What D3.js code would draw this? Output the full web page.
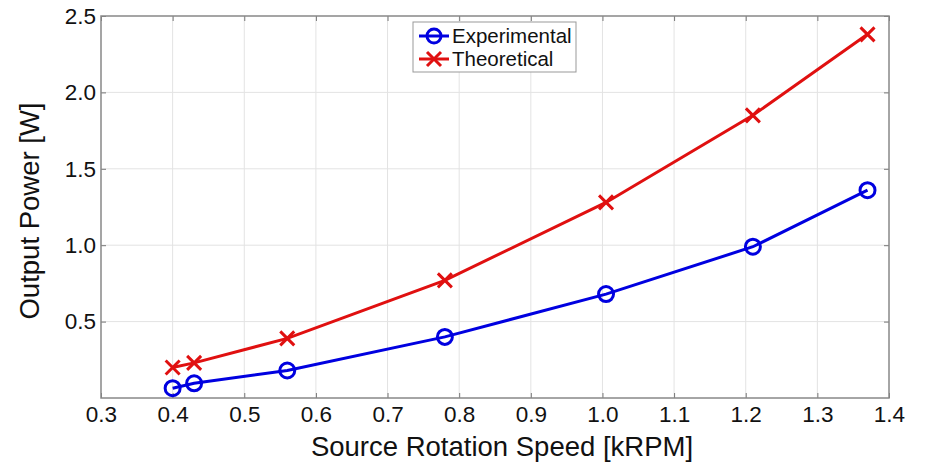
<!DOCTYPE html>
<html>
<head>
<meta charset="utf-8">
<script src="https://cdn.jsdelivr.net/npm/d3@7"></script>
<style>
body { margin: 0; background: #fff; }
text { font-family: "Liberation Sans", Arial, sans-serif; fill: #111; }
</style>
</head>
<body>
<svg id="chart" width="925" height="464"></svg>
<script>
// data
var speed = [0.40, 0.43, 0.56, 0.78, 1.005, 1.21, 1.37];
var experimental = [0.064, 0.096, 0.18, 0.40, 0.68, 0.99, 1.36];
var theoretical = [0.20, 0.23, 0.39, 0.77, 1.28, 1.85, 2.38];
var xTicks = [0.3, 0.4, 0.5, 0.6, 0.7, 0.8, 0.9, 1.0, 1.1, 1.2, 1.3, 1.4];
var yTicks = [0.5, 1.0, 1.5, 2.0, 2.5];

var m = { left: 101, top: 16, right: 889, bottom: 398 };
var svg = d3.select("#chart");

var x = d3.scaleLinear().domain([0.3, 1.4]).range([m.left, m.right]);
var y = d3.scaleLinear().domain([0, 2.5]).range([m.bottom, m.top]);

// grid
var grid = svg.append("g").attr("stroke", "#e3e3e3").attr("stroke-width", 1);
grid.selectAll("line.gx").data(xTicks.slice(1, -1)).enter().append("line")
	.attr("x1", function(d) { return x(d); }).attr("x2", function(d) { return x(d); })
	.attr("y1", m.top).attr("y2", m.bottom);
grid.selectAll("line.gy").data(yTicks.slice(0, -1)).enter().append("line")
	.attr("x1", m.left).attr("x2", m.right)
	.attr("y1", function(d) { return y(d); }).attr("y2", function(d) { return y(d); });

// axes (ticks inside, on all four sides)
var tickStyle = function(g) {
	g.select(".domain").remove();
	g.selectAll(".tick line").attr("stroke", "#777");
	g.selectAll(".tick text").style("font-size", "22.5px").attr("fill", "#111");
};
svg.append("g").attr("transform", "translate(0," + m.bottom + ")")
	.call(d3.axisBottom(x).tickValues(xTicks).tickSizeInner(-5).tickPadding(8).tickFormat(d3.format(".1f")))
	.call(tickStyle);
svg.append("g").attr("transform", "translate(0," + m.top + ")")
	.call(d3.axisTop(x).tickValues(xTicks).tickSizeInner(-5).tickFormat(""))
	.call(tickStyle);
svg.append("g").attr("transform", "translate(" + m.left + ",0)")
	.call(d3.axisLeft(y).tickValues(yTicks).tickSizeInner(-5).tickPadding(5).tickFormat(d3.format(".1f")))
	.call(tickStyle);
svg.append("g").attr("transform", "translate(" + m.right + ",0)")
	.call(d3.axisRight(y).tickValues(yTicks).tickSizeInner(-5).tickFormat(""))
	.call(tickStyle);

svg.append("rect")
	.attr("x", m.left).attr("y", m.top)
	.attr("width", m.right - m.left).attr("height", m.bottom - m.top)
	.attr("fill", "none").attr("stroke", "#888").attr("stroke-width", 1.5);

// axis titles
svg.append("text")
	.attr("x", 502).attr("y", 456)
	.attr("text-anchor", "middle").style("font-size", "27.5px")
	.text("Source Rotation Speed [kRPM]");
svg.append("text")
	.attr("transform", "translate(39,211) rotate(-90)")
	.attr("text-anchor", "middle").style("font-size", "27.5px")
	.text("Output Power [W]");

// series
var line = d3.line().x(function(d) { return x(d[0]); }).y(function(d) { return y(d[1]); });
var expPts = d3.zip(speed, experimental);
var theoPts = d3.zip(speed, theoretical);

svg.append("path").datum(expPts).attr("d", line)
	.attr("fill", "none").attr("stroke", "#0000e0").attr("stroke-width", 3);
svg.append("path").datum(theoPts).attr("d", line)
	.attr("fill", "none").attr("stroke", "#e01010").attr("stroke-width", 3);

svg.selectAll("circle.exp").data(expPts).enter().append("circle")
	.attr("cx", function(d) { return x(d[0]); })
	.attr("cy", function(d) { return y(d[1]); })
	.attr("r", 7.5).attr("fill", "none").attr("stroke", "#0000e0").attr("stroke-width", 3);

var cross = function(sel, s) {
	return sel.append("path")
		.attr("d", "M" + (-s) + "," + (-s) + "L" + s + "," + s + "M" + (-s) + "," + s + "L" + s + "," + (-s))
		.attr("fill", "none").attr("stroke", "#e01010").attr("stroke-width", 3);
};
svg.selectAll("g.theo").data(theoPts).enter().append("g")
	.attr("transform", function(d) { return "translate(" + x(d[0]) + "," + y(d[1]) + ")"; })
	.call(cross, 7);

// legend
var lg = svg.append("g").attr("transform", "translate(413,22)");
lg.append("rect").attr("width", 163).attr("height", 50)
	.attr("fill", "#fff").attr("stroke", "#999").attr("stroke-width", 1);
lg.append("line").attr("x1", 6).attr("x2", 36).attr("y1", 14).attr("y2", 14)
	.attr("stroke", "#0000e0").attr("stroke-width", 3);
lg.append("circle").attr("cx", 21).attr("cy", 14).attr("r", 7)
	.attr("fill", "none").attr("stroke", "#0000e0").attr("stroke-width", 3);
lg.append("text").attr("x", 39).attr("y", 21).style("font-size", "20.5px").text("Experimental");
lg.append("line").attr("x1", 6).attr("x2", 36).attr("y1", 37).attr("y2", 37)
	.attr("stroke", "#e01010").attr("stroke-width", 3);
lg.append("g").attr("transform", "translate(21,37)").call(cross, 7);
lg.append("text").attr("x", 39).attr("y", 44).style("font-size", "20.5px").text("Theoretical");
</script>
</body>
</html>
